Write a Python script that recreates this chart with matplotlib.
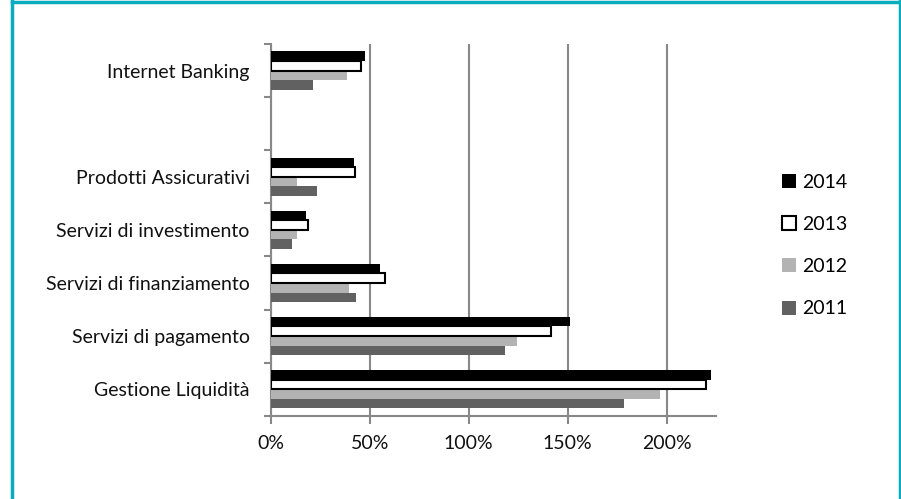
import numpy as np
import matplotlib
matplotlib.use("Agg")
import matplotlib.pyplot as plt
from matplotlib.patches import Patch
from matplotlib.lines import Line2D

# dati (percentuali)
categories = ["Gestione Liquidità", "Servizi di pagamento", "Servizi di finanziamento",
              "Servizi di investimento", "Prodotti Assicurativi", "", "Internet Banking"]
years = ["2011", "2012", "2013", "2014"]
v2011 = [178.5, 118.3, 42.9, 10.9, 23.6, np.nan, 21.5]
v2012 = [196.7, 124.5, 39.7, 13.1, 13.1, np.nan, 38.4]
v2013 = [219.7, 141.4, 58.0, 19.0, 42.5, np.nan, 45.6]
v2014 = [222.4, 151.3, 55.3, 17.8, 42.1, np.nan, 47.7]
x_ticks = [0, 50, 100, 150, 200]
x_labels = ["0%", "50%", "100%", "150%", "200%"]

plt.rcParams["font.family"] = ["Lato", "DejaVu Sans"]

fig = plt.figure(figsize=(9.01, 4.99), dpi=100)
ax = fig.add_axes([0.3004, 0.1669, 0.7947 - 0.3004, 0.9118 - 0.1669])

series = [v2011, v2012, v2013, v2014]
faces = ["#616161", "#b3b3b3", "white", "black"]
edges = ["none", "none", "black", "none"]
lws = [0, 0, 1.5, 0]
h = 0.181
pos = np.arange(len(categories))
for i, vals in enumerate(series):
    off = (i - 1.5) * h
    ax.barh(pos + off, vals, height=h, color=faces[i], edgecolor=edges[i],
            linewidth=lws[i], zorder=3)

ax.set_xlim(0, 225)
ax.set_ylim(-0.5, len(categories) - 0.5)

ax.set_xticks(x_ticks)
ax.set_xticklabels(x_labels, fontsize=14, color="#111111")
ax.set_yticks(pos)
ax.set_yticklabels(categories, fontsize=14, color="#111111")
ax.set_yticks(np.arange(-0.5, len(categories)), minor=True)
ax.tick_params(axis="y", which="major", length=0, pad=15)
ax.tick_params(axis="y", which="minor", length=5, width=1.5, color="#888888")
ax.tick_params(axis="x", length=6, width=1.5, color="#888888", pad=8)

ax.grid(axis="x", color="#888888", linewidth=1.5, zorder=0)
for s in ["top", "right"]:
    ax.spines[s].set_visible(False)
for s in ["left", "bottom"]:
    ax.spines[s].set_color("#888888")
    ax.spines[s].set_linewidth(1.5)

handles = [Patch(facecolor="black", edgecolor="none"),
           Patch(facecolor="white", edgecolor="black", linewidth=1.5),
           Patch(facecolor="#b3b3b3", edgecolor="none"),
           Patch(facecolor="#616161", edgecolor="none")]
leg = fig.legend(handles, ["2014", "2013", "2012", "2011"], loc="center left",
                 bbox_to_anchor=(0.848, 0.508), frameon=False, fontsize=14,
                 handlelength=0.75, handleheight=0.75, handletextpad=0.3,
                 labelspacing=1.3)

# cornice
c = "#0aacbf"
fig.add_artist(Line2D([11.5 / 901, 11.5 / 901], [0, 1], color=c, linewidth=2.5))
fig.add_artist(Line2D([11.5 / 901, 1], [1 - 1.5 / 499, 1 - 1.5 / 499], color=c, linewidth=2.5))
fig.add_artist(Line2D([899.5 / 901, 899.5 / 901], [0, 1], color=c, linewidth=2.5))

fig.savefig("out.png", dpi=100)
